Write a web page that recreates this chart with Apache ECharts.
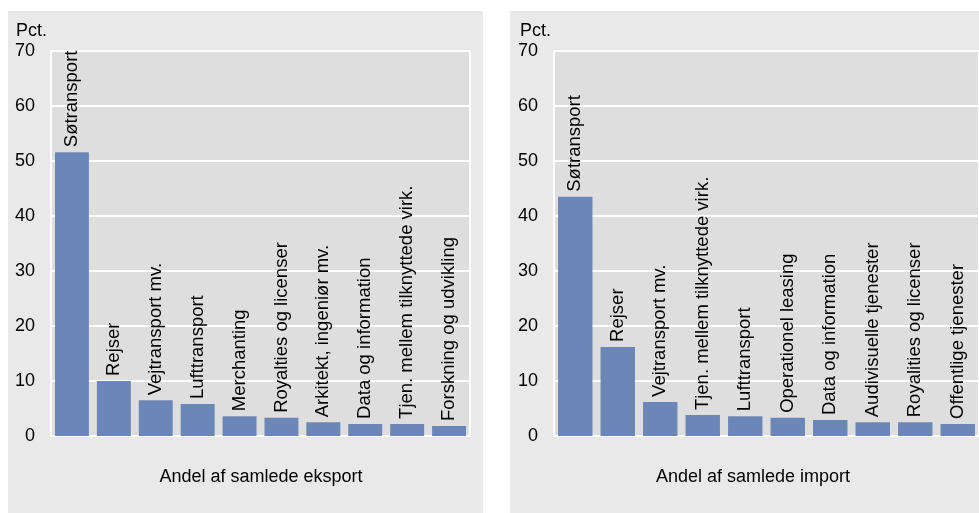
<!DOCTYPE html>
<html><head><meta charset="utf-8">
<script src="https://cdn.jsdelivr.net/npm/echarts@6/dist/echarts.min.js"></script>
<style>html,body{margin:0;padding:0;background:#fff}#c{width:979px;height:513px}</style>
</head><body><div id="c"></div>
<script>
const exportCats = ['Søtransport','Rejser','Vejtransport mv.','Lufttransport','Merchanting','Royalties og licenser','Arkitekt, ingeniør mv.','Data og information','Tjen. mellem tilknyttede virk.','Forskning og udvikling'];
const exportVals = [51.6, 10.0, 6.5, 5.8, 3.6, 3.3, 2.5, 2.2, 2.2, 1.8];
const importCats = ['Søtransport','Rejser','Vejtransport mv.','Tjen. mellem tilknyttede virk.','Lufttransport','Operationel leasing','Data og information','Audivisuelle tjenester','Royalities og licenser','Offentlige tjenester'];
const importVals = [43.5, 16.2, 6.2, 3.8, 3.6, 3.3, 2.9, 2.5, 2.5, 2.2];
const yTicks = [0, 10, 20, 30, 40, 50, 60, 70];
const exportTitle = 'Andel af samlede eksport';
const importTitle = 'Andel af samlede import';
const unit = 'Pct.';

const FONT = 'Liberation Sans';
const BAR = '#6b87b7';
const chart = echarts.init(document.getElementById('c'), null, {renderer:'canvas'});

function yAxis(gi){
  return {gridIndex:gi, type:'value', min:yTicks[0], max:yTicks[yTicks.length-1], interval:10,
    axisLine:{show:false}, axisTick:{show:false},
    splitLine:{lineStyle:{color:'#ffffff', width:2}},
    axisLabel:{color:'#000', fontFamily:FONT, fontSize:18, margin:16}};
}
function xAxis(gi, cats){
  return {gridIndex:gi, type:'category', data:cats, axisLine:{show:false}, axisTick:{show:false}, axisLabel:{show:false}};
}
function series(gi, vals){
  return {type:'bar', xAxisIndex:gi, yAxisIndex:gi, data:vals, barCategoryGap:'19%',
    itemStyle:{color:BAR},
    label:{show:true, position:'top', rotate:90, align:'left', verticalAlign:'middle', distance:5,
      color:'#000', fontFamily:FONT, fontSize:18.5,
      formatter:(p)=>p.name}};
}
chart.setOption({
  animation:false,
  backgroundColor:'#ffffff',
  graphic:[
    {type:'rect', z:-10, shape:{x:8, y:11, width:475, height:502}, style:{fill:'#e9e9e9'}},
    {type:'rect', z:-10, shape:{x:510, y:11, width:480, height:502}, style:{fill:'#e9e9e9'}},
    {type:'text', style:{x:16, y:31, text:unit, fill:'#000', font:'18px '+FONT, textVerticalAlign:'middle'}},
    {type:'text', style:{x:520, y:31, text:unit, fill:'#000', font:'18px '+FONT, textVerticalAlign:'middle'}},
    {type:'text', style:{x:261, y:477, text:exportTitle, fill:'#000', font:'18px '+FONT, textAlign:'center', textVerticalAlign:'middle'}},
    {type:'text', style:{x:753, y:477, text:importTitle, fill:'#000', font:'18px '+FONT, textAlign:'center', textVerticalAlign:'middle'}}
  ],
  grid:[
    {left:51, top:51, width:419, height:385, show:true, backgroundColor:'#dedede', borderColor:'#ffffff', borderWidth:2},
    {left:554, top:51, width:427, height:385, show:true, backgroundColor:'#dedede', borderColor:'#ffffff', borderWidth:2}
  ],
  xAxis:[xAxis(0, exportCats), xAxis(1, importCats)],
  yAxis:[yAxis(0), yAxis(1)],
  series:[series(0, exportVals), series(1, importVals)]
});
</script></body></html>
